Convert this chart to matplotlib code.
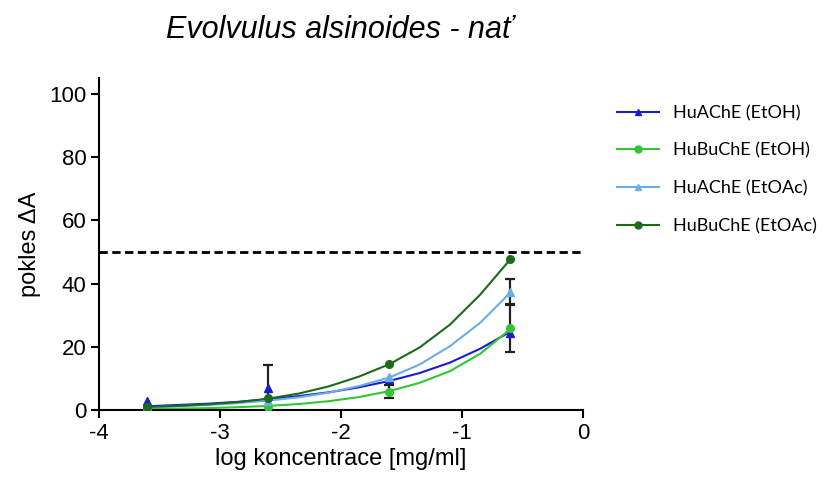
import numpy as np
import matplotlib
matplotlib.use("Agg")
import matplotlib.pyplot as plt
from matplotlib.lines import Line2D

# Données (log koncentrace, pokles dA)
log_conc = [-3.6, -2.6, -1.6, -0.6]

achE_etoh = [2.9, 6.9, 9.9, 24.5]
buchE_etoh = [0.5, 1.0, 5.8, 25.8]
achE_etoac = [1.0, 3.0, 10.4, 37.4]
buchE_etoac = [0.8, 3.7, 14.5, 47.7]

# barres d'erreur (SD) visibles sur le graphique
achE_etoh_err = [0.0, 7.4, 0.0, 0.0]
buchE_etoh_err = [0.0, 0.0, 2.1, 7.6]
achE_etoac_err = [0.0, 0.0, 0.0, 4.2]
buchE_etoac_err = [0.0, 0.0, 0.0, 0.0]

# Courbes ajustées
fit_x = [-3.6, -3.35, -3.1, -2.85, -2.6, -2.35, -2.1, -1.85, -1.6, -1.35, -1.1, -0.85, -0.6]
fit_achE_etoh = [1.2, 1.6, 2.0, 2.6, 3.4, 4.4, 5.6, 7.2, 9.2, 11.7, 15.0, 19.4, 24.8]
fit_buchE_etoh = [0.3, 0.45, 0.6, 0.9, 1.3, 1.9, 2.8, 4.1, 6.0, 8.6, 12.3, 17.8, 25.6]
fit_achE_etoac = [0.8, 1.2, 1.6, 2.2, 3.0, 4.0, 5.5, 7.6, 10.3, 14.4, 20.2, 27.6, 37.2]
fit_buchE_etoac = [1.0, 1.3, 1.8, 2.5, 3.6, 5.2, 7.5, 10.6, 14.5, 19.8, 27.0, 36.5, 47.7]

labels = ["HuAChE (EtOH)", "HuBuChE (EtOH)", "HuAChE (EtOAc)", "HuBuChE (EtOAc)"]
colors = ["#1c1ccf", "#33c633", "#6aaee8", "#1a6b1a"]
markers = ["^", "o", "^", "o"]

series = [achE_etoh, buchE_etoh, achE_etoac, buchE_etoac]
errors = [achE_etoh_err, buchE_etoh_err, achE_etoac_err, buchE_etoac_err]
fits = [fit_achE_etoh, fit_buchE_etoh, fit_achE_etoac, fit_buchE_etoac]

plt.rcParams["font.family"] = ["Liberation Sans", "DejaVu Sans"]

fig = plt.figure(figsize=(8.27, 4.79), dpi=100)
ax = fig.add_axes([0.1197, 0.144, 0.5853, 0.693])

# Ligne 50 %
ax.axhline(50, color="black", linestyle=(0, (3, 1.6)), linewidth=2, zorder=1)

for y, err, fit, c, m in zip(series, errors, fits, colors, markers):
    ax.plot(fit_x, fit, color=c, linewidth=1.5, zorder=2)
    e = np.array(err)
    idx = e > 0
    if idx.any():
        ax.errorbar(np.array(log_conc)[idx], np.array(y)[idx], yerr=e[idx],
                    fmt="none", ecolor="#222222", elinewidth=1.6, capsize=3.5,
                    capthick=1.6, zorder=3)
    ax.plot(log_conc, y, linestyle="none", marker=m, color=c, markersize=5.5, zorder=4)

ax.set_xlim(-4, 0)
ax.set_ylim(0, 105)
ax.set_xticks([-4, -3, -2, -1, 0])
ax.set_xticklabels(["-4", "-3", "-2", "-1", "0"])
ax.set_yticks([0, 20, 40, 60, 80, 100])

for s in ["top", "right"]:
    ax.spines[s].set_visible(False)
for s in ["left", "bottom"]:
    ax.spines[s].set_linewidth(1.5)
ax.tick_params(direction="out", length=6, width=1.5, labelsize=16, pad=3)

ax.set_xlabel("log koncentrace [mg/ml]", fontsize=17, labelpad=3)
ax.set_ylabel("pokles ΔA", fontsize=17, labelpad=6)

fig.text(0.41, 0.937, "Evolvulus alsinoides - nať", fontsize=22, style="italic",
         ha="center", va="center")

# Légende
handles = [Line2D([0], [0], color=c, marker=m, markersize=5, linewidth=1.5)
           for c, m in zip(colors, markers)]
leg = fig.legend(handles, labels, loc="upper left", bbox_to_anchor=(0.727, 0.815),
                 frameon=False, handlelength=2.3, handletextpad=0.75,
                 labelspacing=1.2, prop={"family": "Lato", "size": 13.0})

plt.savefig("out.png", dpi=100)
